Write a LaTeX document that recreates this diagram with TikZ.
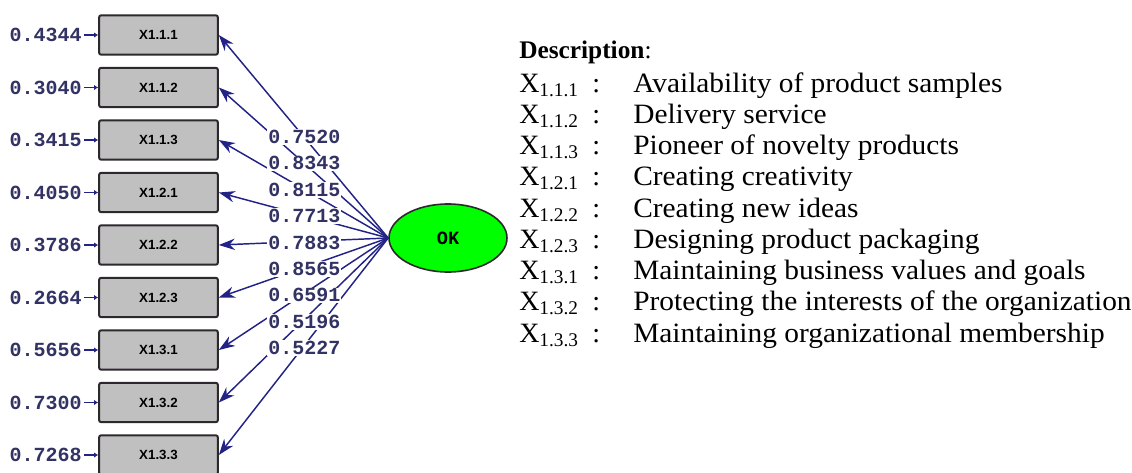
\documentclass[tikz,border=0pt]{standalone}
\usepackage{fontspec}
\setmainfont{Liberation Serif}
\newfontfamily\monofnt{Liberation Mono}
\newfontfamily\sansfnt{Liberation Sans}
\usetikzlibrary{arrows.meta,shapes.geometric}
\definecolor{navy}{RGB}{35,35,135}
\definecolor{numcol}{RGB}{50,50,100}
\definecolor{boxgray}{RGB}{192,192,192}
\definecolor{okgreen}{RGB}{0,255,0}
\definecolor{rim}{RGB}{45,40,45}
\begin{document}
\begin{tikzpicture}[x=0.75pt,y=-0.75pt,
  indbox/.style={draw=rim,line width=1.5pt,fill=boxgray,rounded corners=1.5pt,
    minimum width=89pt,minimum height=29.5pt,inner sep=0pt,
    font=\sansfnt\bfseries\fontsize{10}{10}\selectfont},
  latent/.style={ellipse,draw=rim,line width=1.2pt,fill=okgreen,
    minimum width=88.5pt,minimum height=51pt,inner sep=0pt,
    font=\monofnt\bfseries\fontsize{14}{14}\selectfont},
  numlab/.style={text=numcol,font=\monofnt\bfseries\fontsize{15}{15}\selectfont,inner sep=1.5pt},
  loadlab/.style={numlab,fill=white,inner sep=0.8pt},
  loadarr/.style={draw=navy,line width=1.1pt,-{Stealth[length=12pt,width=8.5pt]}},
  errarr/.style={draw=navy,line width=1.3pt,-{Latex[length=3pt,width=4pt]}},
  desc/.style={anchor=base west,inner sep=0pt,font=\fontsize{21}{21}\selectfont},
]
\useasboundingbox (0,0) rectangle (1132,472);

\node[latent] (ok) at (448,238) {OK};

\foreach \i/\s/\e in {1/1.1.1/0.4344, 2/1.1.2/0.3040,
  3/1.1.3/0.3415, 4/1.2.1/0.4050, 5/1.2.2/0.3786,
  6/1.2.3/0.2664, 7/1.3.1/0.5656, 8/1.3.2/0.7300,
  9/1.3.3/0.7268}{
  \node[indbox] (b\i) at (158.5,{35+52.5*(\i-1)}) {X\s};
  \node[numlab,anchor=east] (e\i) at (84,{35+52.5*(\i-1)}) {\e};
  \draw[errarr] (e\i.east) -- (b\i.west);
  \draw[loadarr] (ok.west) -- (b\i.east);
}
\foreach \i/\l in {1/0.7520, 2/0.8343, 3/0.8115, 4/0.7713, 5/0.7883,
  6/0.8565, 7/0.6591, 8/0.5196, 9/0.5227}{
  \node[loadlab,anchor=west] (l\i) at (267,{137+26.4*(\i-1)}) {\l};
}

\node[desc] (d0) at (519,58) {\fontsize{19}{19}\selectfont\bfseries Description\mdseries:};
\foreach \i/\s/\t in {1/1.1.1/Availability of product samples,
  2/1.1.2/Delivery service, 3/1.1.3/Pioneer of novelty products,
  4/1.2.1/Creating creativity, 5/1.2.2/Creating new ideas,
  6/1.2.3/Designing product packaging,
  7/1.3.1/Maintaining business values and goals,
  8/1.3.2/Protecting the interests of the organization,
  9/1.3.3/Maintaining organizational membership}{
  \node[desc] (x\i) at (519,{92+31.25*(\i-1)}) {X\raisebox{-3pt}{\fontsize{14.5}{14.5}\selectfont \s}};
  \node[desc] (c\i) at (592,{92+31.25*(\i-1)}) {:};
  \node[desc] (t\i) at (633,{92+31.25*(\i-1)}) {\scalebox{1.05}[1]{\t}};
}
\end{tikzpicture}
\end{document}
